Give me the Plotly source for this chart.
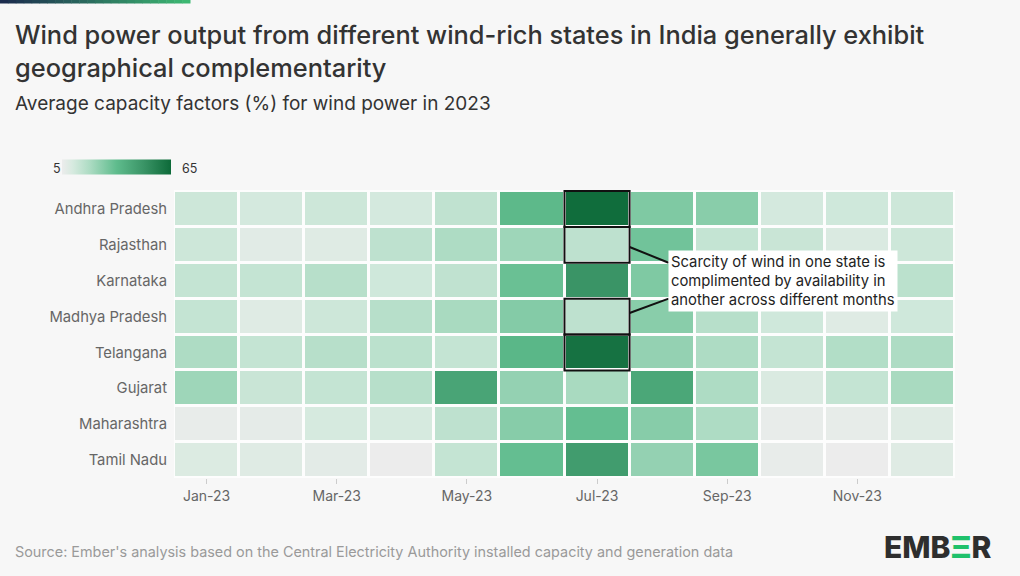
import plotly.graph_objects as go

months = ["Jan-23", "Feb-23", "Mar-23", "Apr-23", "May-23", "Jun-23",
          "Jul-23", "Aug-23", "Sep-23", "Oct-23", "Nov-23", "Dec-23"]
month_ticks = ["Jan-23", "Mar-23", "May-23", "Jul-23", "Sep-23", "Nov-23"]
states = ["Andhra Pradesh", "Rajasthan", "Karnataka", "Madhya Pradesh",
          "Telangana", "Gujarat", "Maharashtra", "Tamil Nadu"]

andhra_pradesh = [13, 11.5, 13, 11.5, 16, 36, 64, 29, 27, 11.5, 12.5, 13]
rajasthan      = [13, 8, 8.5, 16.5, 20, 23, 16.5, 31.5, 15, 14, 10, 13]
karnataka      = [15, 15, 18, 12.5, 16, 33, 50, 29, 20, 13, 14, 17]
madhya_pradesh = [15, 8.5, 13, 18, 21, 28, 16.5, 27, 18, 12.5, 8.5, 12.5]
telangana      = [20, 15, 18, 17, 15, 37, 62, 25, 20, 15, 19, 20]
gujarat        = [23, 14, 15, 18, 44, 25, 21, 43, 20, 10, 15, 21]
maharashtra    = [6, 7, 11, 11, 16.5, 27.5, 34, 27.5, 20, 6, 6.5, 8.5]
tamil_nadu     = [9.5, 8.5, 7.5, 5, 15, 34, 47, 25, 30, 6, 5, 8.5]

z = [andhra_pradesh, rajasthan, karnataka, madhya_pradesh,
     telangana, gujarat, maharashtra, tamil_nadu]

zmin, zmax = 5, 65
highlight_month = "Jul-23"
highlight_states = ["Andhra Pradesh", "Rajasthan", "Madhya Pradesh", "Telangana"]

colorscale = [[0.0, "#ececec"], [0.1, "#d6eadf"], [0.25, "#aedcc4"],
              [0.5, "#5fbc8d"], [0.75, "#3a9466"], [1.0, "#0d6a39"]]

W, H = 1020, 576
L, R, T, B = 174, 65, 190, 98
PW, PH = W - L - R, H - T - B


def px(xp):
    return (xp - L) / PW


def py(yp):
    return (H - B - yp) / PH


fig = go.Figure()
fig.add_trace(go.Heatmap(
    z=z, x=months, y=states, zmin=zmin, zmax=zmax,
    colorscale=colorscale, xgap=3, ygap=3,
    colorbar=dict(orientation="h", xref="container", yref="container",
                  x=151.5 / W, xanchor="center", y=1 - 166.5 / H, yanchor="middle",
                  len=109, lenmode="pixels", thickness=15,
                  outlinewidth=0, showticklabels=False, ticks="",
                  xpad=0, ypad=0),
    hovertemplate="%{y}<br>%{x}: %{z}%<extra></extra>",
))

shapes = []
# top decorative gradient strip
n = 24
c0 = (0x1c, 0x2c, 0x4e)
c1 = (0x3d, 0xb8, 0x72)
for i in range(n):
    t = i / (n - 1)
    col = "rgb(%d,%d,%d)" % tuple(int(c0[k] + (c1[k] - c0[k]) * t) for k in range(3))
    shapes.append(dict(type="rect", xref="paper", yref="paper",
                       x0=px(190 * i / n), x1=px(190 * (i + 1) / n + 0.5),
                       y0=py(-1), y1=py(3.5), fillcolor=col, line_width=0, layer="above"))

# highlight boxes
mi = months.index(highlight_month)
for s in highlight_states:
    si = states.index(s)
    shapes.append(dict(type="rect", xref="x", yref="y",
                       x0=mi - 0.5, x1=mi + 0.5, y0=si - 0.5, y1=si + 0.5,
                       line=dict(color="#111111", width=2), fillcolor="rgba(0,0,0,0)"))

ri = states.index("Rajasthan")
mpi = states.index("Madhya Pradesh")
shapes.append(dict(type="line", xref="x", yref="y", x0=mi + 0.5, y0=ri + 0.06,
                   x1=mi + 1.1, y1=ri + 0.5, line=dict(color="#111111", width=2)))
shapes.append(dict(type="line", xref="x", yref="y", x0=mi + 0.5, y0=mpi - 0.1,
                   x1=mi + 1.1, y1=mpi - 0.5, line=dict(color="#111111", width=2)))

font = "Inter, 'Noto Sans', sans-serif"
annotations = [
    dict(xref="x", yref="y", x=mi + 1.09, y=states.index("Karnataka"),
         xanchor="left", yanchor="middle", align="left", showarrow=False,
         text="Scarcity of wind in one state is<br>complimented by availability in<br>another across different months",
         font=dict(family=font, size=14.8, color="#222222"),
         bgcolor="#ffffff", borderpad=2),
    dict(xref="paper", yref="paper", x=px(13), y=py(17), xanchor="left", yanchor="top",
         align="left", showarrow=False,
         text="Wind power output from different wind-rich states in India generally exhibit<br>geographical complementarity",
         font=dict(family=font, size=25.4, color="#333333", weight=500)),
    dict(xref="paper", yref="paper", x=px(13), y=py(104), xanchor="left", yanchor="middle",
         showarrow=False, text="Average capacity factors (%) for wind power in 2023",
         font=dict(family=font, size=19, color="#333333")),
    dict(xref="paper", yref="paper", x=px(63), y=py(168), xanchor="right", yanchor="middle",
         showarrow=False, text=str(zmin), font=dict(family=font, size=12.5, color="#333333")),
    dict(xref="paper", yref="paper", x=px(180), y=py(168), xanchor="left", yanchor="middle",
         showarrow=False, text=str(zmax), font=dict(family=font, size=12.5, color="#333333")),
    dict(xref="paper", yref="paper", x=px(13), y=py(552), xanchor="left", yanchor="middle",
         showarrow=False,
         text="Source: Ember's analysis based on the Central Electricity Authority installed capacity and generation data",
         font=dict(family=font, size=14.4, color="#9a9a9a")),
    dict(xref="paper", yref="paper", x=px(994), y=py(547), xanchor="right", yanchor="middle",
         showarrow=False,
         text="EMB<span style='color:#1fc16b'>Ξ</span>R",
         font=dict(family=font, size=30, color="#2e2e2e", weight=800)),
]

fig.update_layout(
    width=W, height=H,
    margin=dict(l=L, r=R, t=T, b=B, pad=0),
    paper_bgcolor="#f7f7f7", plot_bgcolor="#fdfdfd",
    font=dict(family=font, size=13, color="#666666"),
    shapes=shapes, annotations=annotations,
    xaxis=dict(tickmode="array", tickvals=month_ticks, ticktext=month_ticks,
               ticks="outside", ticklen=5, tickcolor="#cccccc",
               showgrid=False, zeroline=False, showline=False,
               tickfont=dict(family=font, size=14, color="#666666"), fixedrange=True),
    yaxis=dict(autorange="reversed", showgrid=False, zeroline=False, showline=False,
               ticks="", ticklabelstandoff=6,
               tickfont=dict(family=font, size=14.8, color="#666666"), fixedrange=True),
)

fig.write_html("out.html", config={"displayModeBar": False},
               post_script="document.body.style.margin='0';document.body.style.background='#f7f7f7';")
